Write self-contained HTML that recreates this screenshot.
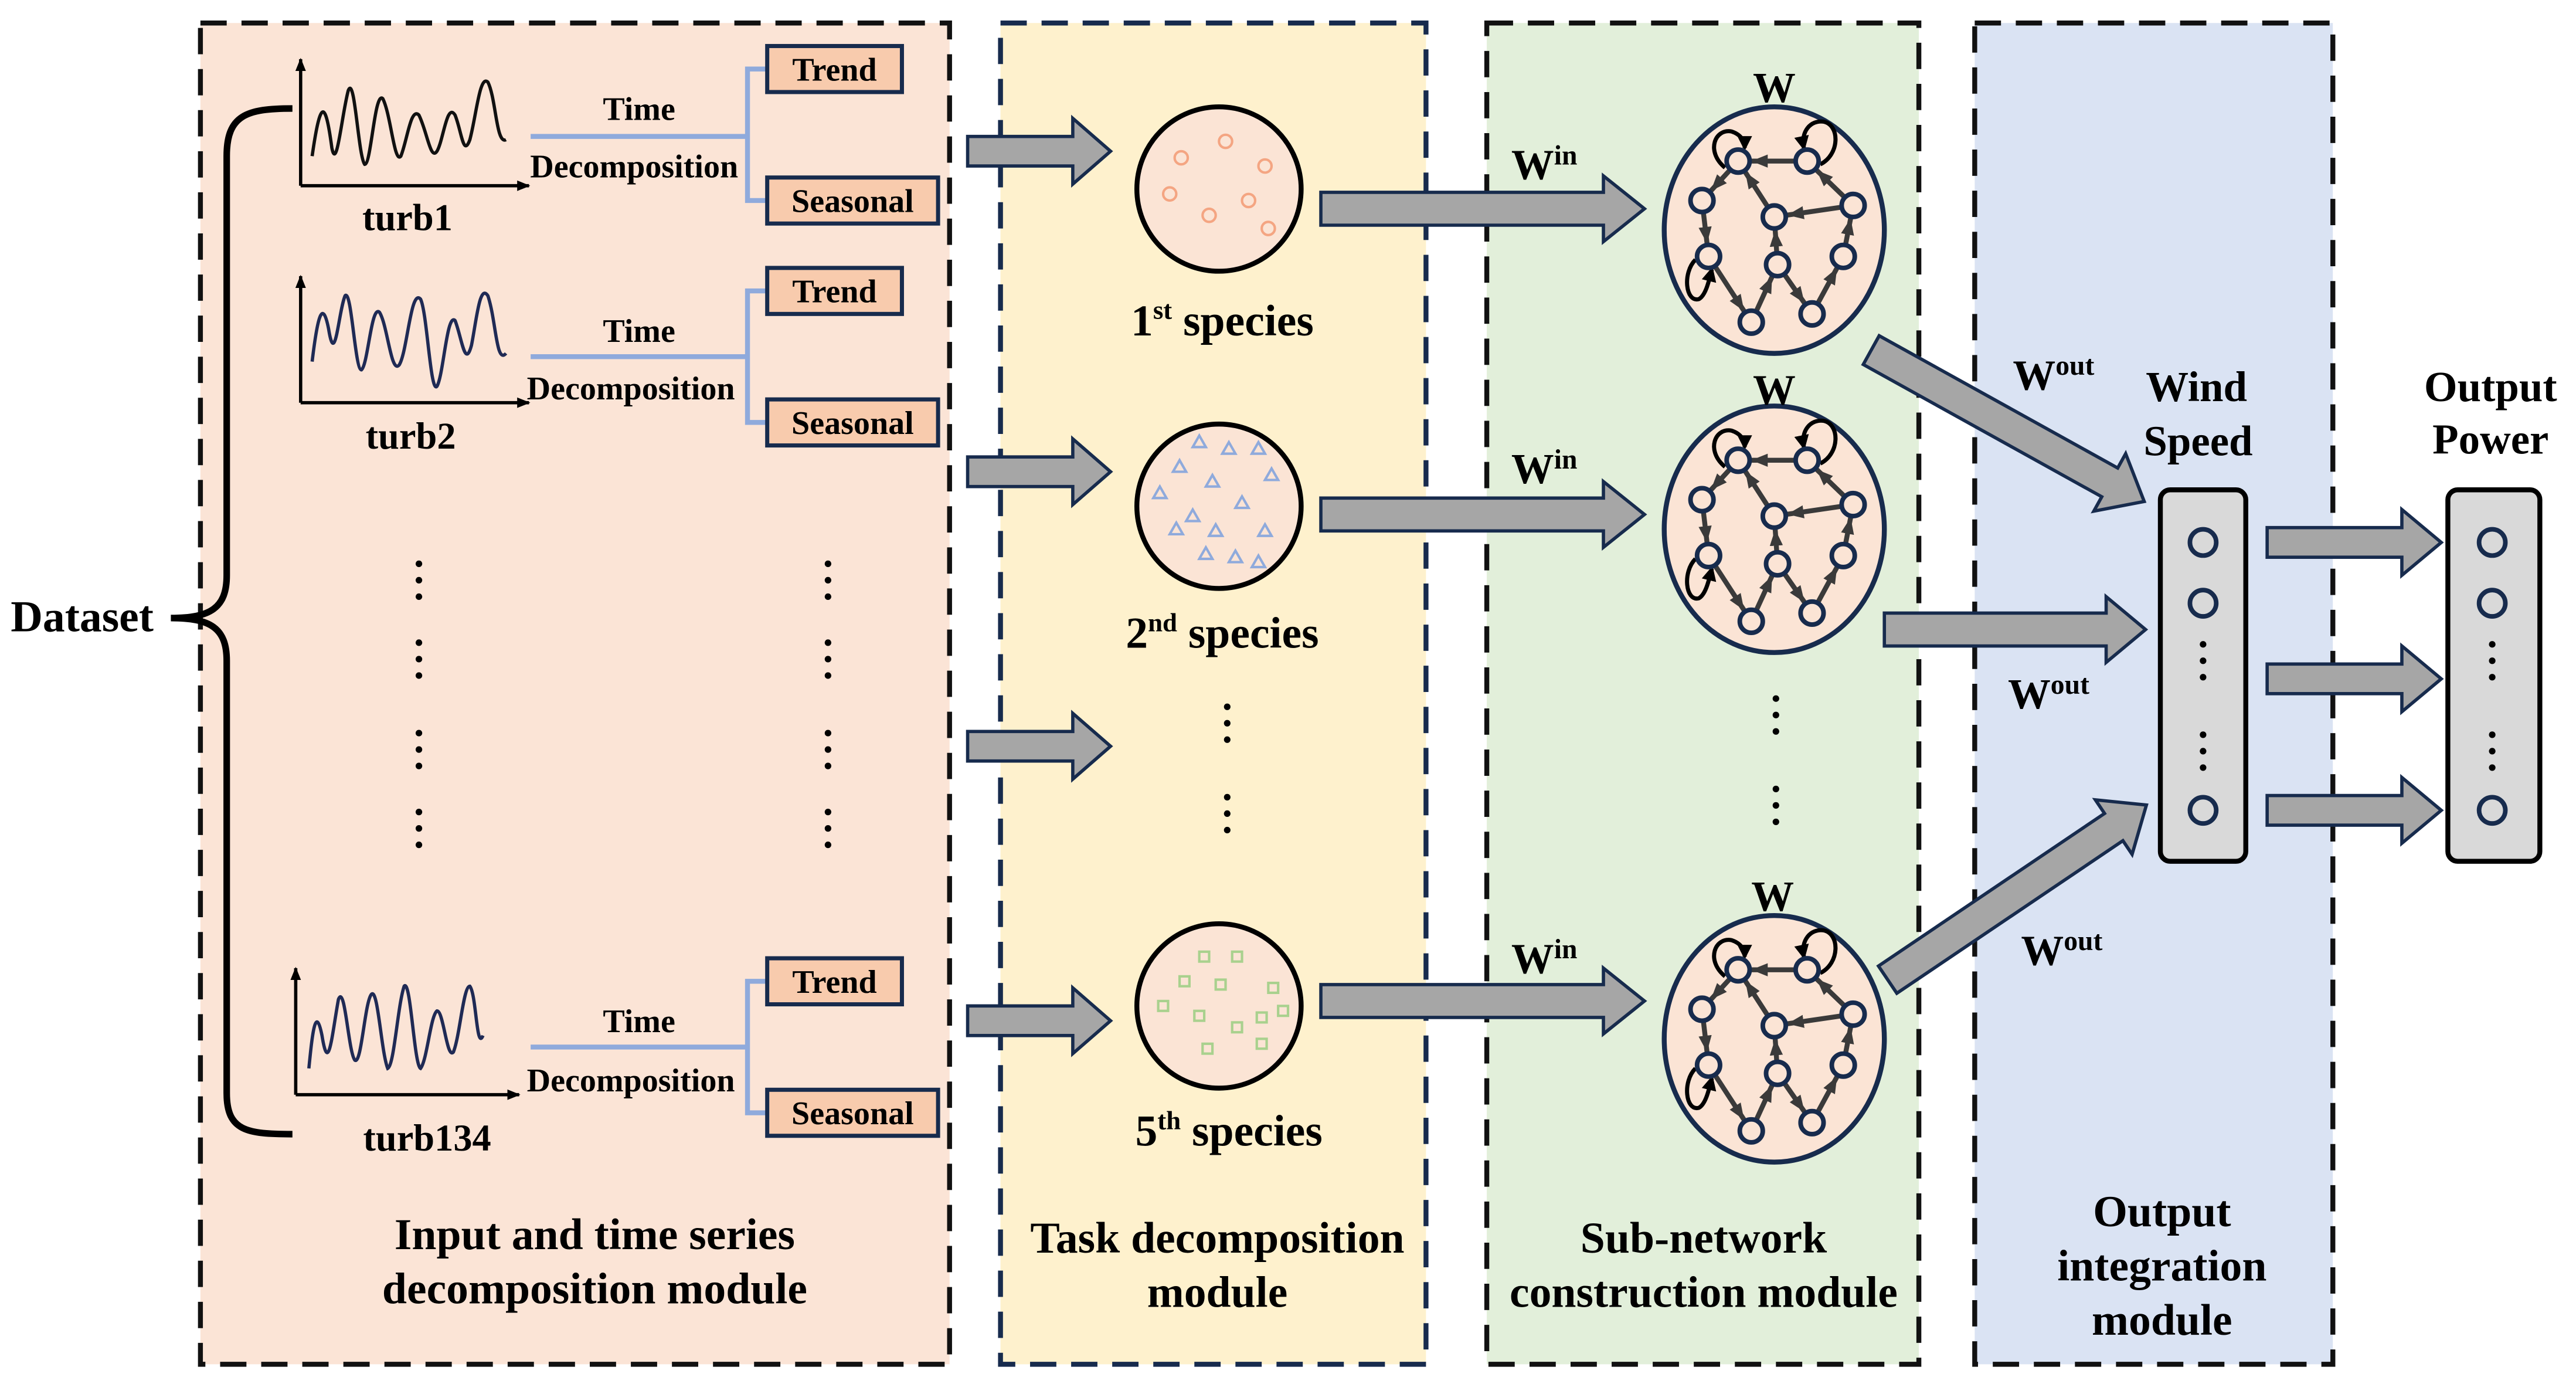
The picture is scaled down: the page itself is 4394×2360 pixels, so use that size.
<!DOCTYPE html>
<html><head><meta charset="utf-8"><style>
html,body{margin:0;padding:0;background:#fff}
svg{display:block}
text{font-family:"Liberation Serif",serif;font-weight:bold;fill:#000}
</style></head><body>
<svg width="4394" height="2360" viewBox="0 0 1568 842" preserveAspectRatio="none" xmlns="http://www.w3.org/2000/svg">
<defs>
<marker id="ah" markerWidth="10" markerHeight="10" viewBox="0 0 10 10" refX="18" refY="5" markerUnits="userSpaceOnUse" orient="auto"><path d="M0,1 L10,5 L0,9 Z" fill="#3a3a3a"/></marker>
<marker id="ah2" markerWidth="9" markerHeight="9" viewBox="0 0 10 10" refX="8" refY="5" markerUnits="userSpaceOnUse" orient="auto"><path d="M0,0 L10,5 L0,10 Z" fill="#000"/></marker>
<marker id="axh" markerWidth="8" markerHeight="8" viewBox="0 0 10 10" refX="9" refY="5" markerUnits="userSpaceOnUse" orient="auto"><path d="M0,1 L10,5 L0,9 Z" fill="#000"/></marker>
<g id="vd" fill="#000"><circle cx="0" cy="0" r="2"/><circle cx="0" cy="10" r="2"/><circle cx="0" cy="20" r="2"/></g>
<g id="net">
<ellipse cx="0" cy="0" rx="67" ry="75" fill="#fbe4d5" stroke="#172b4d" stroke-width="3"/>
<g stroke="#3a3a3a" stroke-width="3" marker-end="url(#ah)" fill="none">
<line x1="20" y1="-42" x2="-22" y2="-42"/>
<line x1="-22" y1="-42" x2="-44" y2="-18"/>
<line x1="0" y1="-8" x2="-22" y2="-42"/>
<line x1="48" y1="-15" x2="0" y2="-8"/>
<line x1="48" y1="-15" x2="20" y2="-42"/>
<line x1="-44" y1="-18" x2="-40" y2="16"/>
<line x1="-40" y1="16" x2="-14" y2="56"/>
<line x1="-14" y1="56" x2="2" y2="21"/>
<line x1="2" y1="21" x2="0" y2="-8"/>
<line x1="2" y1="21" x2="23" y2="51"/>
<line x1="23" y1="51" x2="42" y2="16"/>
<line x1="42" y1="16" x2="48" y2="-15"/>
</g>
<g stroke="#000" stroke-width="2.5" fill="none" marker-end="url(#ah2)">
<path d="M-30,-38 C-42,-48 -36,-62 -26,-60 C-20,-58 -18,-54 -18,-50"/>
<path d="M28,-40 C40,-46 40,-64 30,-66 C22,-67 16,-60 18,-50"/>
<path d="M-48,18 C-56,26 -54,44 -46,42 C-42,40 -40,32 -38,24"/>
</g>
<g fill="#fbe4d5" stroke="#172b4d" stroke-width="2.8">
<circle cx="-22" cy="-42" r="7"/><circle cx="20" cy="-42" r="7"/><circle cx="-44" cy="-18" r="7"/>
<circle cx="0" cy="-8" r="7"/><circle cx="48" cy="-15" r="7"/><circle cx="-40" cy="16" r="7"/>
<circle cx="2" cy="21" r="7"/><circle cx="42" cy="16" r="7"/><circle cx="-14" cy="56" r="7"/>
<circle cx="23" cy="51" r="7"/>
</g>
</g>
</defs>

<rect x="122" y="14" width="456" height="816" fill="#fbe4d6" stroke="#111" stroke-width="3" stroke-dasharray="16,9"/>
<rect x="609" y="14" width="259" height="816" fill="#fef1cd" stroke="#172b4d" stroke-width="3" stroke-dasharray="16,9"/>
<rect x="905" y="14" width="263" height="816" fill="#e2efda" stroke="#111" stroke-width="3" stroke-dasharray="16,9"/>
<rect x="1202" y="14" width="218" height="816" fill="#dae3f3" stroke="#111" stroke-width="3" stroke-dasharray="16,9"/>

<text x="50" y="384" font-size="27" text-anchor="middle">Dataset</text>
<path d="M178,66 C150,66 138,70 138,95 L138,350 C138,370 128,376 104,376 C128,376 138,382 138,402 L138,665 C138,688 150,690 178,690" fill="none" stroke="#000" stroke-width="4"/>

<g fill="none" stroke-width="2">
<g stroke="#000">
<line x1="183" y1="113" x2="183" y2="36" marker-end="url(#axh)"/><line x1="183" y1="113" x2="322" y2="113" marker-end="url(#axh)"/>
<line x1="183" y1="245" x2="183" y2="168" marker-end="url(#axh)"/><line x1="183" y1="245" x2="322" y2="245" marker-end="url(#axh)"/>
<line x1="180" y1="666" x2="180" y2="589" marker-end="url(#axh)"/><line x1="180" y1="666" x2="316" y2="666" marker-end="url(#axh)"/>
</g>
<path stroke="#111" d="M190,95 C195,60 198,60 202,90 C205,105 208,70 212,55 C216,45 218,95 222,100 C226,100 228,55 233,60 C238,70 240,100 244,95 C248,85 250,65 255,70 C260,80 262,98 266,92 C270,85 272,62 277,70 C281,80 282,96 286,85 C290,70 292,45 297,50 C302,60 302,88 308,85"/>
<path stroke="#1f2a55" d="M190,220 C193,195 196,180 200,200 C204,225 206,190 210,180 C214,175 216,225 220,225 C224,222 226,185 231,190 C236,198 238,228 243,222 C248,214 250,175 256,182 C260,190 262,240 266,235 C270,228 272,190 277,195 C281,205 283,225 287,210 C290,195 292,172 297,180 C302,195 302,222 308,215"/>
<path stroke="#1f2a55" d="M188,650 C190,630 192,610 196,630 C200,655 202,630 206,608 C210,598 212,640 216,645 C220,648 222,610 226,605 C230,600 232,640 236,650 C240,648 242,612 246,600 C250,595 252,648 256,650 C260,645 262,618 266,615 C270,615 272,645 276,640 C280,630 282,600 286,600 C290,605 290,640 294,630"/>
</g>
<g font-size="23" text-anchor="middle">
<text x="248" y="140">turb1</text><text x="250" y="273">turb2</text><text x="260" y="700">turb134</text>
</g>

<g fill="none" stroke="#8faadc" stroke-width="3">
<line x1="323" y1="83" x2="455" y2="83"/><path d="M467,42 L455,42 L455,122 L467,122"/>
<line x1="323" y1="217" x2="455" y2="217"/><path d="M467,177 L455,177 L455,257 L467,257"/>
<line x1="323" y1="637" x2="455" y2="637"/><path d="M467,597 L455,597 L455,677 L467,677"/>
</g>
<g font-size="20" text-anchor="middle">
<text x="389" y="73">Time</text><text x="386" y="108">Decomposition</text>
<text x="389" y="208">Time</text><text x="384" y="243">Decomposition</text>
<text x="389" y="628">Time</text><text x="384" y="664">Decomposition</text>
</g>
<g fill="#f8cbad" stroke="#172b4d" stroke-width="2.5">
<rect x="467" y="28" width="82" height="28"/><rect x="467" y="108" width="104" height="28"/>
<rect x="467" y="163" width="82" height="28"/><rect x="467" y="243" width="104" height="28"/>
<rect x="467" y="583" width="82" height="28"/><rect x="467" y="663" width="104" height="28"/>
</g>
<g font-size="20" text-anchor="middle">
<text x="508" y="49">Trend</text><text x="519" y="129">Seasonal</text>
<text x="508" y="184">Trend</text><text x="519" y="264">Seasonal</text>
<text x="508" y="604">Trend</text><text x="519" y="684">Seasonal</text>
</g>
<use href="#vd" x="255" y="343"/><use href="#vd" x="255" y="391"/><use href="#vd" x="255" y="446"/><use href="#vd" x="255" y="494"/>
<use href="#vd" x="504" y="343"/><use href="#vd" x="504" y="391"/><use href="#vd" x="504" y="446"/><use href="#vd" x="504" y="494"/>
<use href="#vd" x="747" y="430"/><use href="#vd" x="747" y="485"/>
<use href="#vd" x="1081" y="425"/><use href="#vd" x="1081" y="480"/>

<g fill="#a6a6a6" stroke="#172b4d" stroke-width="2">
<polygon points="589,83 653,83 653,72 676,92 653,112 653,101 589,101"/>
<polygon points="589,278 653,278 653,267 676,287 653,307 653,296 589,296"/>
<polygon points="589,445 653,445 653,434 676,454 653,474 653,463 589,463"/>
<polygon points="589,612 653,612 653,601 676,621 653,641 653,630 589,630"/>
<polygon points="804,117 976,117 976,107 1001,127 976,147 976,137 804,137"/>
<polygon points="804,303 976,303 976,293 1001,313 976,333 976,323 804,323"/>
<polygon points="804,599 976,599 976,589 1001,609 976,629 976,619 804,619"/>
<polygon points="1147,373 1282,373 1282,363 1306,383 1282,403 1282,393 1147,393"/>
<polygon transform="translate(1139,213) rotate(29)" points="0,-10 166,-10 166,-20 190,0 166,20 166,10 0,10"/>
<polygon transform="translate(1149,596) rotate(-34)" points="0,-10 166,-10 166,-20 190,0 166,20 166,10 0,10"/>
<polygon points="1380,321 1462,321 1462,310 1486,330 1462,350 1462,339 1380,339"/>
<polygon points="1380,404 1462,404 1462,393 1486,413 1462,433 1462,422 1380,422"/>
<polygon points="1380,484 1462,484 1462,473 1486,493 1462,513 1462,502 1380,502"/>
</g>

<g fill="#fbe4d5" stroke="#000" stroke-width="3">
<circle cx="742" cy="115" r="50"/><circle cx="742" cy="308" r="50"/><circle cx="742" cy="612" r="50"/>
</g>
<g fill="none" stroke="#f4a582" stroke-width="1.5">
<circle cx="719" cy="96" r="4"/><circle cx="746" cy="86" r="4"/><circle cx="770" cy="101" r="4"/><circle cx="712" cy="118" r="4"/>
<circle cx="760" cy="122" r="4"/><circle cx="736" cy="131" r="4"/><circle cx="772" cy="139" r="4"/>
</g>
<g fill="none" stroke="#8faadc" stroke-width="1.5">
<path d="M726,272 l4,-7 l4,7z M744,276 l4,-7 l4,7z M762,276 l4,-7 l4,7z M714,287 l4,-7 l4,7z M734,296 l4,-7 l4,7z M770,292 l4,-7 l4,7z M702,303 l4,-7 l4,7z M752,309 l4,-7 l4,7z M722,317 l4,-7 l4,7z M736,326 l4,-7 l4,7z M766,326 l4,-7 l4,7z M712,325 l4,-7 l4,7z M748,342 l4,-7 l4,7z M762,345 l4,-7 l4,7z M730,340 l4,-7 l4,7z"/>
</g>
<g fill="none" stroke="#a9d18e" stroke-width="1.5">
<rect x="730" y="579" width="6" height="6"/><rect x="750" y="579" width="6" height="6"/><rect x="718" y="594" width="6" height="6"/>
<rect x="740" y="596" width="6" height="6"/><rect x="772" y="598" width="6" height="6"/><rect x="705" y="609" width="6" height="6"/>
<rect x="727" y="615" width="6" height="6"/><rect x="765" y="616" width="6" height="6"/><rect x="750" y="622" width="6" height="6"/>
<rect x="778" y="612" width="6" height="6"/><rect x="732" y="635" width="6" height="6"/><rect x="765" y="632" width="6" height="6"/>
</g>
<g font-size="27" text-anchor="middle">
<text x="744" y="204">1<tspan font-size="16" dy="-10">st</tspan><tspan dy="10"> species</tspan></text>
<text x="744" y="394">2<tspan font-size="16" dy="-10">nd</tspan><tspan dy="10"> species</tspan></text>
<text x="748" y="697">5<tspan font-size="16" dy="-10">th</tspan><tspan dy="10"> species</tspan></text>
</g>

<use href="#net" x="1080" y="140"/>
<use href="#net" x="1080" y="322"/>
<use href="#net" x="1080" y="632"/>
<g font-size="26" text-anchor="middle">
<text x="1080" y="62">W</text><text x="1080" y="246">W</text><text x="1079" y="554">W</text>
<text x="940" y="109">W<tspan font-size="17" dy="-9">in</tspan></text>
<text x="940" y="294">W<tspan font-size="17" dy="-9">in</tspan></text>
<text x="940" y="592">W<tspan font-size="17" dy="-9">in</tspan></text>
<text x="1250" y="237">W<tspan font-size="17" dy="-9">out</tspan></text>
<text x="1247" y="431">W<tspan font-size="17" dy="-9">out</tspan></text>
<text x="1255" y="587">W<tspan font-size="17" dy="-9">out</tspan></text>
</g>

<rect x="1315" y="298" width="52" height="226" rx="6" fill="#d9d9d9" stroke="#000" stroke-width="3"/>
<rect x="1490" y="298" width="56" height="226" rx="6" fill="#d9d9d9" stroke="#000" stroke-width="3"/>
<g fill="none" stroke="#172b4d" stroke-width="2.8">
<circle cx="1341" cy="330" r="8"/><circle cx="1341" cy="367" r="8"/><circle cx="1341" cy="493" r="8"/>
<circle cx="1517" cy="330" r="8"/><circle cx="1517" cy="367" r="8"/><circle cx="1517" cy="493" r="8"/>
</g>
<use href="#vd" x="1341" y="392"/><use href="#vd" x="1341" y="447"/>
<use href="#vd" x="1517" y="392"/><use href="#vd" x="1517" y="447"/>
<g font-size="26" text-anchor="middle">
<text x="1337" y="244">Wind</text><text x="1338" y="277">Speed</text>
<text x="1516" y="244">Output</text><text x="1516" y="276">Power</text>
</g>

<g font-size="27" text-anchor="middle">
<text x="362" y="760">Input and time series</text><text x="362" y="793">decomposition module</text>
<text x="741" y="762">Task decomposition</text><text x="741" y="795">module</text>
<text x="1037" y="762">Sub-network</text><text x="1037" y="795">construction module</text>
<text x="1316" y="746">Output</text><text x="1316" y="779">integration</text><text x="1316" y="812">module</text>
</g>
</svg>
</body></html>
